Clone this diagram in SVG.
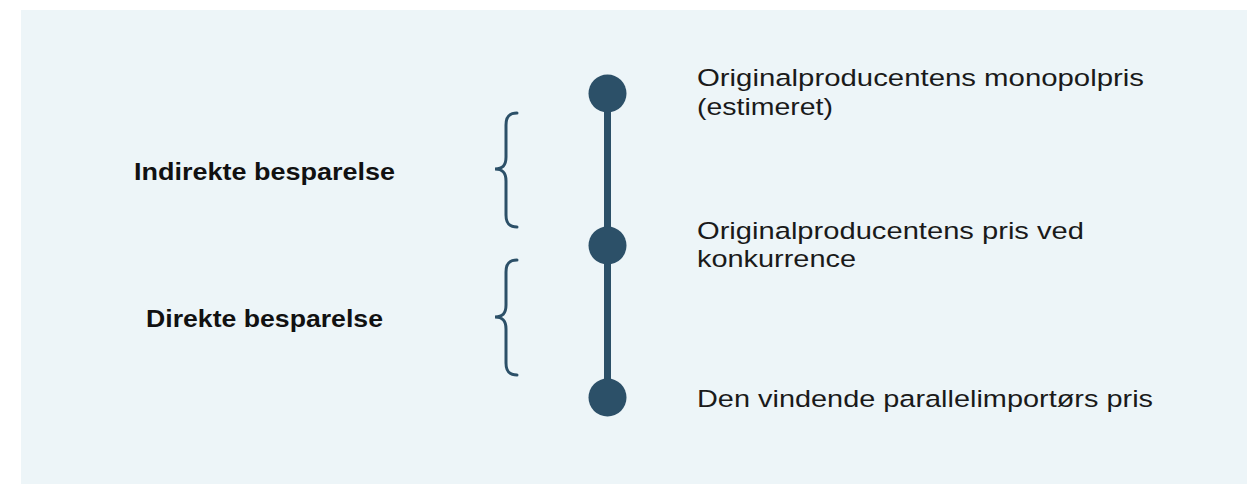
<svg xmlns="http://www.w3.org/2000/svg" width="1247" height="484" viewBox="0 0 1247 484">
<style>
.lbl{font-family:"Liberation Sans",Arial,sans-serif;font-size:24.5px;fill:#1a1a1a}
.bold{font-family:"Liberation Sans",Arial,sans-serif;font-size:23px;font-weight:bold;fill:#111}
.brace{fill:none;stroke:#2c5068;stroke-width:3;stroke-linecap:round}
.dot{fill:#2c5068}
</style>
<rect x="21" y="10" width="1226" height="474" fill="#edf5f8"/>
<g id="connectors">
<line x1="607.5" y1="93" x2="607.5" y2="398" stroke="#2c5068" stroke-width="7"/>
</g>
<g id="brace-indirekte">
<path class="brace" d="M517,113 C509,113 506,117 506,125 L506,157 C506,165 503,169 495,169 C503,169 506,173 506,181 L506,215 C506,223 509,227 517,227"/>
<text class="bold" x="264.5" y="180" text-anchor="middle" textLength="261" lengthAdjust="spacingAndGlyphs">Indirekte besparelse</text>
</g>
<g id="brace-direkte">
<path class="brace" d="M517,260 C509,260 506,264 506,272 L506,305 C506,313 503,317 495,317 C503,317 506,321 506,329 L506,363 C506,371 509,375 517,375"/>
<text class="bold" x="264.5" y="327" text-anchor="middle" textLength="237" lengthAdjust="spacingAndGlyphs">Direkte besparelse</text>
</g>
<g id="node-monopol">
<circle class="dot" cx="607.5" cy="93.5" r="19"/>
<text class="lbl" x="697" y="86" textLength="447" lengthAdjust="spacingAndGlyphs">Originalproducentens monopolpris</text>
<text class="lbl" x="697" y="115" textLength="136" lengthAdjust="spacingAndGlyphs">(estimeret)</text>
</g>
<g id="node-konkurrence">
<circle class="dot" cx="607.5" cy="245.5" r="19"/>
<text class="lbl" x="697" y="239" textLength="387" lengthAdjust="spacingAndGlyphs">Originalproducentens pris ved</text>
<text class="lbl" x="697" y="267" textLength="159" lengthAdjust="spacingAndGlyphs">konkurrence</text>
</g>
<g id="node-parallel">
<circle class="dot" cx="607.5" cy="397.5" r="19"/>
<text class="lbl" x="697" y="407" textLength="456" lengthAdjust="spacingAndGlyphs">Den vindende parallelimportørs pris</text>
</g>
</svg>
